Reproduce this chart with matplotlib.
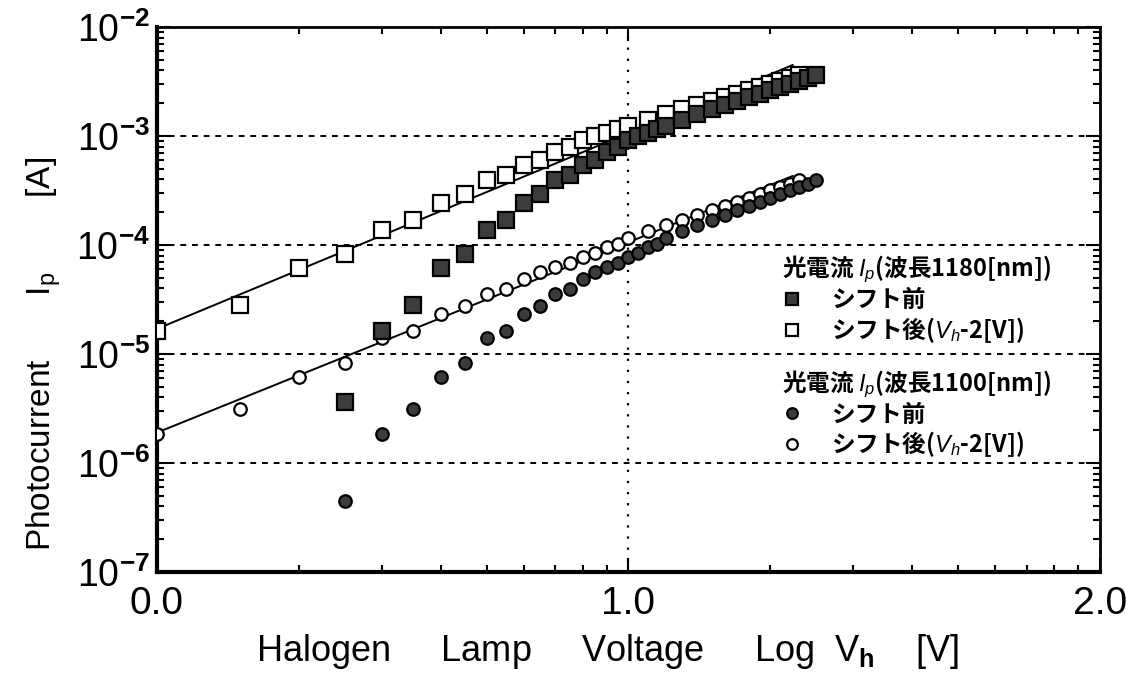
import numpy as np
import matplotlib
matplotlib.use("Agg")
import matplotlib.pyplot as plt
from matplotlib.font_manager import FontProperties
from matplotlib.lines import Line2D
from matplotlib.ticker import FixedLocator, FixedFormatter, LogLocator, NullFormatter

# halogen lamp voltage V_h [V]
v_h = [2.5, 3.0, 3.5, 4.0, 4.5, 5.0, 5.5, 6.0, 6.5, 7.0, 7.5, 8.0, 8.5, 9.0, 9.5,
       10.0, 10.5, 11.0, 11.5, 12.0, 13, 14, 15, 16, 17, 18, 19, 20, 21, 22, 23, 24, 25]

# photocurrent Ip [A], 1180 nm, before shift
ip_1180 = [3.66e-6, 1.64e-5, 2.84e-5, 6.2e-5, 8.2e-5, 1.36e-4, 1.68e-4, 2.41e-4, 2.92e-4,
           3.93e-4, 4.36e-4, 5.4e-4, 6.0e-4, 7.1e-4, 7.9e-4, 9.1e-4, 9.9e-4, 1.07e-3,
           1.15e-3, 1.24e-3, 1.41e-3, 1.6e-3, 1.76e-3, 1.93e-3, 2.1e-3, 2.27e-3, 2.45e-3,
           2.63e-3, 2.81e-3, 3.0e-3, 3.2e-3, 3.4e-3, 3.6e-3]

# photocurrent Ip [A], 1100 nm, before shift
ip_1100 = [4.5e-7, 1.86e-6, 3.1e-6, 6.2e-6, 8.2e-6, 1.4e-5, 1.61e-5, 2.34e-5, 2.73e-5,
           3.55e-5, 3.95e-5, 4.9e-5, 5.6e-5, 6.3e-5, 6.9e-5, 7.7e-5, 8.5e-5, 9.5e-5,
           1.03e-4, 1.15e-4, 1.34e-4, 1.52e-4, 1.71e-4, 1.9e-4, 2.1e-4, 2.3e-4, 2.5e-4,
           2.72e-4, 2.95e-4, 3.18e-4, 3.42e-4, 3.66e-4, 3.93e-4]

shift = 2.0  # V_h - 2 [V]

# fitted lines (end points)
fit_v = [1.0, 22.3]
fit_1180 = [1.7e-5, 4.48e-3]
fit_1100 = [1.9e-6, 4.3e-4]

x_ticks = [1, 10, 100]
x_ticklabels = ["0.0", "1.0", "2.0"]
y_ticks = [1e-7, 1e-6, 1e-5, 1e-4, 1e-3, 1e-2]
y_ticklabels = [r"$\mathregular{10^{\mathbf{-%d}}}$" % k for k in (7, 6, 5, 4, 3, 2)]

plt.rcParams["font.family"] = ["Liberation Sans", "DejaVu Sans"]
plt.rcParams["mathtext.fontset"] = "custom"
plt.rcParams["mathtext.rm"] = "Liberation Sans"
plt.rcParams["mathtext.it"] = "Liberation Sans:italic"
plt.rcParams["mathtext.bf"] = "Liberation Sans:bold"

fig = plt.figure(figsize=(11.26, 6.75), dpi=100)
ax = fig.add_axes([0.1394, 0.1526, 0.8375, 0.8074])

v_arr = np.array(v_h)
v_after = v_arr - shift

sq = dict(marker="s", markersize=11, linestyle="none", markeredgecolor="black", markeredgewidth=1.6)
ci = dict(marker="o", markersize=9, linestyle="none", markeredgecolor="black", markeredgewidth=1.6)

ax.plot(fit_v, fit_1180, color="black", lw=1.4, zorder=2)
ax.plot(fit_v, fit_1100, color="black", lw=1.4, zorder=2)

ax.plot(v_after, ip_1180, markerfacecolor="white", zorder=3, **sq)
ax.plot(v_arr, ip_1180, markerfacecolor="#3c3c3c", zorder=4, **sq)
ax.plot(v_after, ip_1100, markerfacecolor="white", zorder=3, **ci)
ax.plot(v_arr, ip_1100, markerfacecolor="#3c3c3c", zorder=4, **ci)

ax.set_xscale("log")
ax.set_yscale("log")
ax.set_xlim(1, 100)
ax.set_ylim(1e-7, 1e-2)

ax.xaxis.set_major_locator(FixedLocator(x_ticks))
ax.xaxis.set_major_formatter(FixedFormatter(x_ticklabels))
ax.xaxis.set_minor_locator(LogLocator(base=10, subs=np.arange(2, 10)))
ax.xaxis.set_minor_formatter(NullFormatter())
ax.yaxis.set_major_locator(FixedLocator(y_ticks))
ax.yaxis.set_major_formatter(FixedFormatter(y_ticklabels))
ax.yaxis.set_minor_locator(LogLocator(base=10, subs=np.arange(2, 10)))
ax.yaxis.set_minor_formatter(NullFormatter())

ax.tick_params(which="both", direction="in", top=True, right=True, width=1.5)
ax.tick_params(which="major", length=10)
ax.tick_params(which="minor", length=5)
ax.tick_params(axis="x", which="major", labelsize=28, pad=10)
ax.tick_params(axis="y", which="major", labelsize=27, pad=5)

for s in ax.spines.values():
    s.set_linewidth(2)
ax.spines["left"].set_linewidth(3)
ax.spines["bottom"].set_linewidth(3)

# grid
for yv in y_ticks[1:-1]:
    ax.axhline(yv, color="black", lw=1.4, linestyle=(0, (3, 3)), zorder=1)
ax.axvline(10, color="black", lw=1.6, linestyle=(0, (1, 4)), zorder=1)

ax.set_xlabel(r"Halogen     Lamp     Voltage     Log  V$_{\mathbf{h}}$    [V]", fontsize=26)
ax.xaxis.set_label_coords(0.478, -0.11)
ax.set_ylabel(r"Photocurrent       I$_\mathregular{p}$        [A]", fontsize=24)
ax.yaxis.set_label_coords(-0.1, 0.40)

# legends
jp = ["Noto Sans CJK JP", "DejaVu Sans"]
lp = FontProperties(family=jp, weight="bold", size=17)
tp = FontProperties(family=jp, weight="bold", size=17)

h1 = [Line2D([], [], markerfacecolor="#3c3c3c", **sq),
      Line2D([], [], markerfacecolor="white", **sq)]
h2 = [Line2D([], [], markerfacecolor="#3c3c3c", **ci),
      Line2D([], [], markerfacecolor="white", **ci)]
labels = ["シフト前", r"シフト後($V_h$-2[V])"]

leg_kw = dict(prop=lp, title_fontproperties=tp, loc="upper left", frameon=False, borderpad=0,
              handlelength=0.9, handletextpad=1.2, labelspacing=0.12, alignment="left",
              markerscale=0.85)
leg1 = ax.legend(h1, labels, title=r"光電流 $I_p$(波長1180[nm])",
                 bbox_to_anchor=(0.65, 0.605), **leg_kw)
ax.add_artist(leg1)
ax.legend(h2, labels, title=r"光電流 $I_p$(波長1100[nm])",
          bbox_to_anchor=(0.65, 0.395), **leg_kw)

fig.savefig("out.png", dpi=100)
